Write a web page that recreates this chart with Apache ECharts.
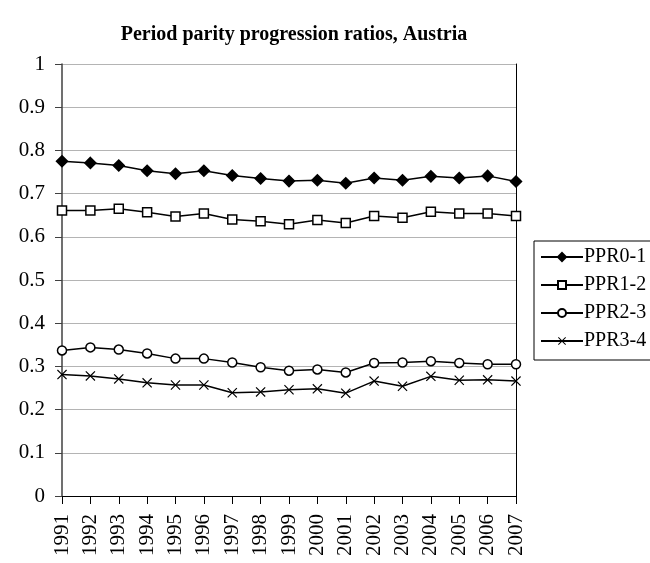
<!DOCTYPE html>
<html>
<head>
<meta charset="utf-8">
<script src="https://cdn.jsdelivr.net/npm/echarts@6/dist/echarts.min.js"></script>
<style>
  html, body { margin: 0; padding: 0; background: #fff; }
  #chart { width: 650px; height: 563px; }
</style>
</head>
<body>
<div id="chart"></div>
<script>
let years = ['1991','1992','1993','1994','1995','1996','1997','1998','1999','2000','2001','2002','2003','2004','2005','2006','2007']
let ppr01 = [0.775, 0.771, 0.765, 0.753, 0.746, 0.753, 0.742, 0.735, 0.729, 0.731, 0.724, 0.736, 0.731, 0.740, 0.736, 0.741, 0.728]
let ppr12 = [0.661, 0.661, 0.665, 0.657, 0.647, 0.654, 0.640, 0.636, 0.629, 0.639, 0.632, 0.648, 0.644, 0.658, 0.654, 0.654, 0.648]
let ppr23 = [0.337, 0.344, 0.339, 0.330, 0.318, 0.318, 0.309, 0.298, 0.290, 0.293, 0.286, 0.308, 0.309, 0.312, 0.308, 0.305, 0.305]
let ppr34 = [0.281, 0.278, 0.271, 0.262, 0.257, 0.257, 0.239, 0.241, 0.246, 0.248, 0.238, 0.266, 0.254, 0.277, 0.268, 0.269, 0.266]

let font = 'Liberation Serif, Times New Roman, serif'
// x-shaped marker (filled outline of a thin cross)
let cross = 'path://M0,1 L1,0 L6,5 L11,0 L12,1 L7,6 L12,11 L11,12 L6,7 L1,12 L0,11 L5,6 Z'

function line(name, data, symbol, size, fill){
	return {
		name: name,
		type: 'line',
		data: data,
		symbol: symbol,
		symbolSize: size,
		showAllSymbol: true,
		lineStyle: { color: '#000', width: 1.5 },
		itemStyle: { color: fill, borderColor: '#000', borderWidth: symbol === cross ? 0 : 1.5 },
		emphasis: { disabled: true }
	}
}

let myChart = echarts.init(document.getElementById('chart'))
let option = {
	animation: false,
	title: {
		text: 'Period parity progression ratios, Austria',
		left: 289,
		textAlign: 'center',
		top: 20,
		textStyle: { fontFamily: font, fontSize: 20, fontWeight: 'bold', color: '#000' }
	},
	legend: {
		orient: 'vertical',
		left: 534,
		top: 241,
		padding: [6, 30, 9, 6],
		itemGap: 8,
		itemWidth: 42,
		itemHeight: 10,
		borderColor: '#000',
		borderWidth: 1,
		textStyle: { fontFamily: font, fontSize: 20, color: '#000', padding: [0, 0, 0, -4] },
		data: ['PPR0-1', 'PPR1-2', 'PPR2-3', 'PPR3-4']
	},
	grid: { left: 62, right: 134, top: 64, bottom: 67 },
	xAxis: {
		type: 'category',
		data: years,
		boundaryGap: false,
		axisLine: { lineStyle: { color: '#000', width: 1 } },
		axisTick: { show: true, length: 8, interval: 0, lineStyle: { color: '#000' } },
		axisLabel: { rotate: 90, interval: 0, margin: 18, fontFamily: font, fontSize: 21, color: '#000' }
	},
	yAxis: [{
		type: 'value',
		min: 0,
		max: 1,
		interval: 0.1,
		axisLine: { show: true, lineStyle: { color: '#404040', width: 1.5 } },
		axisTick: { show: true, length: 7, lineStyle: { color: '#404040' } },
		axisLabel: { margin: 17, fontFamily: font, fontSize: 21, color: '#000',
			formatter: function(v){ return Math.round(v * 10) / 10 + '' } },
		splitLine: { lineStyle: { color: '#b4b4b4', width: 1 } }
	}, {
		type: 'value',
		position: 'right',
		min: 0,
		max: 1,
		interval: 0.1,
		axisLine: { show: true, lineStyle: { color: '#000', width: 1 } },
		axisTick: { show: false },
		axisLabel: { show: false },
		splitLine: { show: false }
	}],
	series: [
		line('PPR0-1', ppr01, 'diamond', 11, '#000'),
		line('PPR1-2', ppr12, 'rect', 9, '#fff'),
		line('PPR2-3', ppr23, 'circle', 9, '#fff'),
		line('PPR3-4', ppr34, cross, 10, '#000')
	]
}
myChart.setOption(option)
</script>
</body>
</html>
